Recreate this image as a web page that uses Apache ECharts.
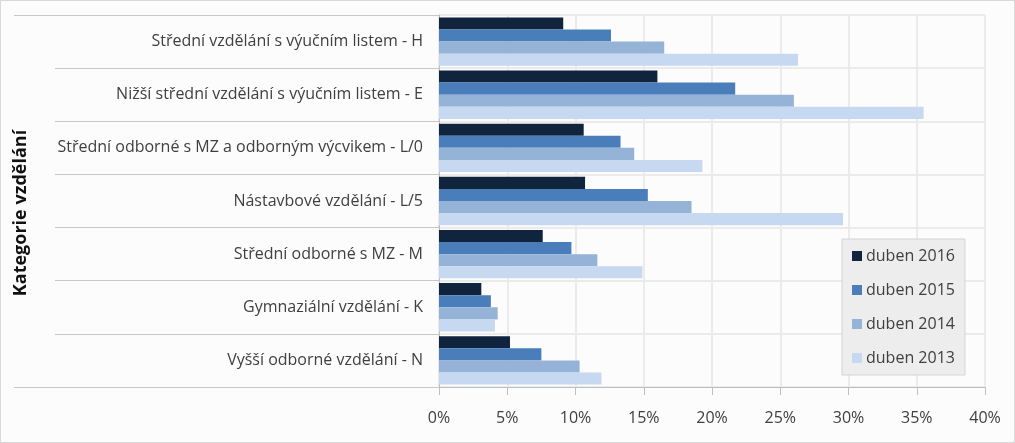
<!DOCTYPE html>
<html><head><meta charset="utf-8">
<script src="https://cdn.jsdelivr.net/npm/echarts@6/dist/echarts.min.js"></script>
<style>
html,body{margin:0;padding:0;background:#fcfcfc;}
#c{width:1015px;height:443px;}
#b{position:absolute;left:0;top:0;width:1015px;height:443px;box-sizing:border-box;border:1px solid #d9d9d9;pointer-events:none;}
</style></head>
<body><div id="c"></div><div id="b"></div>
<script>
const categories = [
  'Střední vzdělání s výučním listem - H',
  'Nižší střední vzdělání s výučním listem - E',
  'Střední odborné s MZ a odborným výcvikem - L/0',
  'Nástavbové vzdělání - L/5',
  'Střední odborné s MZ - M',
  'Gymnaziální vzdělání - K',
  'Vyšší odborné vzdělání - N'
];
const seriesNames = ['duben 2016', 'duben 2015', 'duben 2014', 'duben 2013'];
const d2016 = [9.1, 16.0, 10.6, 10.7, 7.6, 3.1, 5.2];
const d2015 = [12.6, 21.7, 13.3, 15.3, 9.7, 3.8, 7.5];
const d2014 = [16.5, 26.0, 14.3, 18.5, 11.6, 4.3, 10.3];
const d2013 = [26.3, 35.5, 19.3, 29.6, 14.9, 4.1, 11.9];
const xTicks = [0, 5, 10, 15, 20, 25, 30, 35, 40];
const yTitle = 'Kategorie vzdělání';

const colors = ['#10243e', '#4a7ebb', '#95b3d7', '#c6d9f1'];
const font = 'Open Sans';
const values = [d2016, d2015, d2014, d2013];

const chart = echarts.init(document.getElementById('c'));
chart.setOption({
  backgroundColor: '#fcfcfc',
  animation: false,
  color: colors,
  grid: {left: 439, top: 15, right: 30, bottom: 56, containLabel: false},
  legend: {
    orient: 'vertical', left: 842, top: 239,
    data: seriesNames,
    backgroundColor: '#ededed', borderColor: '#d4d4d4', borderWidth: 1,
    padding: [9, 10, 9, 10], itemGap: 18, itemWidth: 10, itemHeight: 10,
    icon: 'rect',
    textStyle: {fontFamily: font, fontSize: 16, color: '#404040', padding: [0, 0, 0, -1]}
  },
  xAxis: {
    type: 'value', min: xTicks[0], max: xTicks[xTicks.length - 1], interval: 5,
    axisLine: {show: true, lineStyle: {color: '#bfbfbf', width: 1}},
    axisTick: {show: true, length: 8, lineStyle: {color: '#bfbfbf'}},
    axisLabel: {formatter: '{value}%', margin: 23, fontFamily: font, fontSize: 16, color: '#404040'},
    splitLine: {show: true, lineStyle: {color: '#ebebeb', width: 2}}
  },
  yAxis: [{
    type: 'category', data: categories, inverse: true,
    axisLine: {show: true, lineStyle: {color: '#bfbfbf'}},
    axisTick: {show: true, length: 384, lineStyle: {color: '#c8c8c8'}},
    axisLabel: {margin: 16, fontFamily: font, fontSize: 16, color: '#404040'},
    splitLine: {show: true, lineStyle: {color: '#ebebeb', width: 2}},
    name: yTitle, nameLocation: 'middle', nameGap: 409,
    nameTextStyle: {fontFamily: font, fontSize: 18, fontWeight: 'bold', color: '#111111', padding: [0, 24, 0, 0]}
  }, {
    type: 'category', data: [''], position: 'left',
    axisLine: {show: false},
    axisTick: {show: true, length: 425, lineStyle: {color: '#c8c8c8'}},
    axisLabel: {show: false},
    splitLine: {show: false}
  }],
  series: seriesNames.map((n, i) => ({
    name: n, type: 'bar', data: values[i], yAxisIndex: 0,
    barGap: '0%', barCategoryGap: '9%'
  }))
});
</script>
</body></html>
